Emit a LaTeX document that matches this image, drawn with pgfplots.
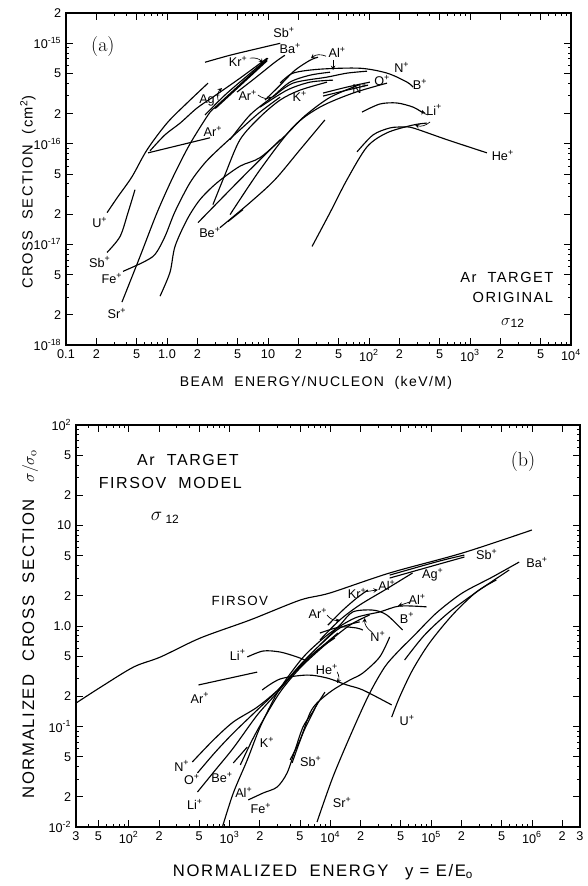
\documentclass[border=0pt]{standalone}
\usepackage{fontspec}
\usepackage{pgfplots}
\pgfplotsset{compat=1.18}
\newfontfamily\lab{Liberation Sans}
\newfontfamily\labw[LetterSpace=10]{Liberation Sans}
\newcommand{\ion}[1]{#1\textsuperscript{+}}

\pgfplotsset{
  every axis/.append style={
    scale only axis,
    axis line style={line width=1pt},
    tick align=inside, major tick length=5pt, minor tick length=2.5pt,
    tick label style={font=\lab\fontsize{9.5}{10}\selectfont},
  },
  every tick/.style={black, line width=0.6pt},
  ioncurve/.style={black, line width=0.85pt, smooth, no marks},
}
\tikzset{
  lbl/.style={font=\lab\fontsize{9.5}{10}\selectfont, inner sep=0pt},
  arr/.style={->, >=stealth, line width=0.5pt},
}

\begin{document}
\begin{tikzpicture}
\useasboundingbox (0pt,0pt) rectangle (440.25pt,664.5pt);

% ---------------- panel (a) ----------------
\begin{loglogaxis}[at={(49.5pt,405.75pt)}, anchor=south west, width=378.75pt, height=249pt,
  xmin=0.1, xmax=1e4, ymin=1e-18, ymax=2e-15,
  xtick={0.1,0.2,0.5,1,2,5,10,20,50,100,200,500,1000,2000,5000,10000},
  xticklabels={0.1,2,5,1.0,2,5,10,2,5,10\textsuperscript{2},2,5,10\textsuperscript{3},2,5,10\textsuperscript{4}},
  minor xtick={0.3,0.4,0.6,0.7,0.8,0.9,3,4,6,7,8,9,30,40,60,70,80,90,300,400,600,700,800,900,3000,4000,6000,7000,8000,9000},
  ytick={1e-18,2e-18,5e-18,1e-17,2e-17,5e-17,1e-16,2e-16,5e-16,1e-15,2e-15},
  yticklabels={10\textsuperscript{-18},2,5,10\textsuperscript{-17},2,5,10\textsuperscript{-16},2,5,10\textsuperscript{-15},2},
  minor ytick={3e-18,4e-18,6e-18,7e-18,8e-18,9e-18,3e-17,4e-17,6e-17,7e-17,8e-17,9e-17,3e-16,4e-16,6e-16,7e-16,8e-16,9e-16},
]
% Sb+ (two ranges)
\addplot[ioncurve] coordinates {(2.38,6.48e-16) (4.21,7.61e-16) (7.43,8.73e-16) (13.2,1.0e-15)};
\addplot[ioncurve] coordinates {(0.255,8.33e-18) (0.343,1.20e-17) (0.411,2.07e-17) (0.482,3.50e-17)};
% U+
\addplot[ioncurve] coordinates {(0.255,2.07e-17) (0.327,2.99e-17) (0.450,4.71e-17) (0.634,8.72e-17) (1.0,1.61e-16) (1.58,2.55e-16) (2.55,4.02e-16)};
% Ar+ (low energy)
\addplot[ioncurve] coordinates {(0.649,8.14e-17) (2.67,1.15e-16)};
\addplot[ioncurve] coordinates {(0.679,8.53e-17) (0.955,1.23e-16) (1.35,1.61e-16) (1.98,2.27e-16) (2.85,2.92e-16) (5.28,4.50e-16) (9.77,7.10e-16)};
% Ag+
\addplot[ioncurve, line width=1.6pt] coordinates {(2.99,2.27e-16) (5.28,3.84e-16) (9.77,6.79e-16)};
% Sr+
\addplot[ioncurve] coordinates {(0.358,2.67e-18) (0.541,7.60e-18) (0.797,2.07e-17) (1.15,4.71e-17) (1.69,1.0e-16) (2.67,2.07e-16) (3.13,2.32e-16)};
% Fe+
\addplot[ioncurve] coordinates {(0.367,5.40e-18) (0.578,6.64e-18) (0.761,7.96e-18) (0.955,1.20e-17) (1.20,2.12e-17) (1.69,4.11e-17) (2.38,6.49e-17) (3.35,9.12e-17) (5.28,1.38e-16) (8.34,2.07e-16) (13.2,2.92e-16)};
% low starting curve
\addplot[ioncurve] coordinates {(0.853,3.06e-18) (1.07,5.28e-18) (1.20,9.55e-18) (1.58,1.77e-17) (2.12,2.79e-17) (3.13,4.11e-17) (5.28,6.0e-17) (8.34,7.3e-17) (14.7,1.2e-16) (23.2,1.9e-16) (41.1,2.9e-16) (81.5,3.9e-16)};
% Be+
\addplot[ioncurve] coordinates {(2.03,1.65e-17) (5.28,4.40e-17) (13.2,1.10e-16)};
\addplot[ioncurve] coordinates {(3.35,1.47e-17) (6.64,2.61e-17) (11.7,4.40e-17) (20.7,8.72e-17) (36.6,1.73e-16)};
\addplot[ioncurve] coordinates {(4.02,1.69e-17) (5.65,2.22e-17)};
% K+
\addplot[ioncurve] coordinates {(2.85,2.49e-17) (3.75,4.93e-17) (5.28,1.10e-16) (8.34,1.85e-16) (13.2,2.73e-16) (20.7,3.42e-16) (38.4,4.11e-16)};
% N+ (long)
\addplot[ioncurve] coordinates {(4.21,1.98e-17) (8.34,5.53e-17) (17.7,1.47e-16) (32.7,2.32e-16) (69.5,3.20e-16) (151,4.02e-16)};
% Ba+
\addplot[ioncurve] coordinates {(4.93,3.27e-16) (7.43,4.50e-16) (11.7,6.48e-16) (14.7,7.61e-16)};
% Kr+
\addplot[ioncurve] coordinates {(2.38,1.94e-16) (3.75,3.06e-16) (6.34,4.82e-16) (10.0,7.10e-16)};
% Ar+ (mid)
\addplot[ioncurve] coordinates {(4.21,1.10e-16) (6.64,1.94e-16) (11.0,2.92e-16) (16.5,4.11e-16) (26.1,4.82e-16) (41.1,5.16e-16)};
% Al+
\addplot[ioncurve] coordinates {(9.34,2.73e-16) (13.2,3.84e-16) (18.5,5.40e-16) (26.1,6.79e-16) (31.3,7.27e-16)};
% B+
\addplot[ioncurve] coordinates {(13.2,4.02e-16) (17.7,5.05e-16) (32.7,5.53e-16) (81.5,5.65e-16) (151,5.05e-16) (238,4.11e-16) (273,3.67e-16)};
% N+ (upper)
\addplot[ioncurve] coordinates {(11.2,2.92e-16) (17.7,4.02e-16) (38.4,4.61e-16) (60.5,5.05e-16) (95.5,5.28e-16)};
\addplot[ioncurve] coordinates {(8.34,2.32e-16) (15.4,3.42e-16) (26.1,4.11e-16) (44.0,4.30e-16)};
% O+ / N+ pair
\addplot[ioncurve] coordinates {(35.1,3.20e-16) (60.5,3.67e-16) (102,4.11e-16)};
\addplot[ioncurve] coordinates {(35.1,2.99e-16) (60.5,3.42e-16) (98,3.84e-16)};
% Li+
\addplot[ioncurve] coordinates {(85.3,2.07e-16) (128,2.49e-16) (189,2.55e-16) (273,2.32e-16) (343,2.03e-16)};
\addplot[ioncurve] coordinates {(27.3,9.55e-18) (41.1,2.07e-17) (60.5,4.40e-17) (95.5,9.33e-17) (151,1.29e-16) (273,1.54e-16) (375,1.61e-16)};
% He+
\addplot[ioncurve] coordinates {(76.1,8.33e-17) (110,1.23e-16) (161,1.44e-16) (217,1.47e-16) (273,1.44e-16) (592,1.10e-16) (1472,8.14e-17)};

\node[inner sep=0pt, font=\fontsize{15}{16}\selectfont] at (rel axis cs:0.073,0.898) {(a)};
\node[lbl] at (rel axis cs:0.432,0.940) {\ion{Sb}};
\node[lbl] at (rel axis cs:0.444,0.892) {\ion{Ba}};
\node[lbl] at (rel axis cs:0.341,0.855) {\ion{Kr}};
\node[lbl] at (rel axis cs:0.285,0.738) {\ion{Ag}};
\node[lbl] at (rel axis cs:0.360,0.753) {\ion{Ar}};
\node[lbl] at (rel axis cs:0.291,0.642) {\ion{Ar}};
\node[lbl] at (rel axis cs:0.463,0.750) {\ion{K}};
\node[lbl] at (rel axis cs:0.537,0.880) {\ion{Al}};
\node[lbl] at (rel axis cs:0.665,0.837) {\ion{N}};
\node[lbl] at (rel axis cs:0.701,0.786) {\ion{B}};
\node[lbl] at (rel axis cs:0.626,0.798) {\ion{O}};
\node[lbl] at (rel axis cs:0.582,0.774) {\ion{N}};
\node[lbl] at (rel axis cs:0.729,0.708) {\ion{Li}};
\node[lbl] at (rel axis cs:0.865,0.572) {\ion{He}};
\node[lbl] at (rel axis cs:0.285,0.340) {\ion{Be}};
\node[lbl] at (rel axis cs:0.067,0.370) {\ion{U}};
\node[lbl] at (rel axis cs:0.067,0.250) {\ion{Sb}};
\node[lbl] at (rel axis cs:0.091,0.199) {\ion{Fe}};
\node[lbl] at (rel axis cs:0.101,0.096) {\ion{Sr}};
\node[lbl, font=\labw\fontsize{11}{12}\selectfont] at (rel axis cs:0.873,0.205) {Ar\ \ TARGET};
\node[lbl, font=\labw\fontsize{11}{12}\selectfont] at (rel axis cs:0.885,0.142) {ORIGINAL};
\node[lbl, font=\lab\fontsize{13}{14}\selectfont] at (rel axis cs:0.885,0.066) {$\sigma$\textsubscript{\fontsize{9}{10}\selectfont 12}};
\draw[arr] (rel axis cs:0.364,0.864) to[bend left] (rel axis cs:0.390,0.849);
\draw[arr] (rel axis cs:0.515,0.870) to[bend right] (rel axis cs:0.485,0.864);
\draw[arr] (rel axis cs:0.529,0.858) -- (rel axis cs:0.529,0.828);
\draw[arr] (rel axis cs:0.380,0.753) to[bend right] (rel axis cs:0.408,0.747);
\draw[arr] (rel axis cs:0.301,0.738) to[bend left] (rel axis cs:0.309,0.774);
\draw[arr] (rel axis cs:0.717,0.693) to[bend left] (rel axis cs:0.705,0.708);
\draw[arr] (rel axis cs:0.721,0.672) to[bend left] (rel axis cs:0.691,0.663);
\end{loglogaxis}

% ---------------- panel (b) ----------------
\begin{loglogaxis}[at={(57pt,44.25pt)}, anchor=south west, width=378pt, height=301.5pt,
  xmin=30, xmax=3e6, ymin=1e-2, ymax=1e2,
  xtick={30,50,100,200,500,1000,2000,5000,1e4,2e4,5e4,1e5,2e5,5e5,1e6,2e6,3e6},
  xticklabels={3,5,10\textsuperscript{2},2,5,10\textsuperscript{3},2,5,10\textsuperscript{4},2,5,10\textsuperscript{5},2,5,10\textsuperscript{6},2,3},
  minor xtick={40,60,70,80,90,300,400,600,700,800,900,3000,4000,6000,7000,8000,9000,3e4,4e4,6e4,7e4,8e4,9e4,3e5,4e5,6e5,7e5,8e5,9e5},
  ytick={0.01,0.02,0.05,0.1,0.2,0.5,1,2,5,10,20,50,100},
  yticklabels={10\textsuperscript{-2},2,5,10\textsuperscript{-1},2,5,1.0,2,5,10,2,5,10\textsuperscript{2}},
  minor ytick={0.03,0.04,0.06,0.07,0.08,0.09,0.3,0.4,0.6,0.7,0.8,0.9,3,4,6,7,8,9,30,40,60,70,80,90},
]
% Firsov model
\addplot[ioncurve] coordinates {(30,0.171) (52.9,0.247) (112,0.391) (207,0.492) (514,0.760) (1607,1.15) (5012,1.81) (9910,2.13) (38800,3.37) (2.04e5,5.32) (1.0e6,9.02)};
% Sb+ (high)
\addplot[ioncurve] coordinates {(38820,3.21) (1.21e5,4.43) (2.14e5,5.08)};
\addplot[ioncurve] coordinates {(38820,3.00) (1.21e5,4.14) (2.14e5,4.86)};
% Ag+
\addplot[ioncurve] coordinates {(7889,0.726) (12450,1.15) (19600,1.62) (34670,2.28) (65460,3.37)};
% Kr+
\addplot[ioncurve] coordinates {(9462,1.02) (13330,1.44) (18320,1.90) (23550,2.28)};
% Al+
\addplot[ioncurve] coordinates {(850,0.0100) (1091,0.0218) (1501,0.0465) (2014,0.0989) (2968,0.215) (4270,0.365) (5875,0.538) (9910,0.851) (17500,1.20) (30900,1.38) (48750,1.58) (90160,1.55)};
% B+
\addplot[ioncurve] coordinates {(7889,0.647) (12450,1.02) (16710,1.38) (26370,1.44) (36220,1.29) (52120,0.912)};
% N+ (upper)
\addplot[ioncurve] coordinates {(7889,0.851) (12450,0.977) (18320,0.955) (20990,0.912)};
% Li+ (upper)
\addplot[ioncurve] coordinates {(1501,0.492) (2158,0.564) (3177,0.551) (4677,0.492) (5875,0.449)};
% Ar+ (low)
\addplot[ioncurve] coordinates {(492,0.259) (1884,0.348)};
% N+, O+, Li+
\addplot[ioncurve] coordinates {(428,0.0444) (692,0.0734) (1091,0.111) (1884,0.156) (3177,0.242) (5012,0.409) (7889,0.647) (12450,0.955) (19600,1.10)};
\addplot[ioncurve] coordinates {(481,0.0345) (724,0.0557) (1091,0.0861) (1884,0.146) (3037,0.231) (4786,0.382) (7534,0.577) (11890,0.851)};
\addplot[ioncurve] coordinates {(481,0.0223) (724,0.0369) (1091,0.0611) (1884,0.130) (2838,0.206) (4467,0.348) (7047,0.551) (11100,0.760)};
% Be+
\addplot[ioncurve] coordinates {(1091,0.0434) (1501,0.0625)};
% K+
\addplot[ioncurve] coordinates {(1279,0.0414) (1680,0.0734) (2158,0.116) (3177,0.220) (5012,0.382) (8851,0.647) (15630,1.02) (24600,1.29)};
% Fe+
\addplot[ioncurve] coordinates {(1535,0.0186) (2158,0.0218) (2968,0.0250) (3726,0.0345) (4467,0.0583) (5358,0.0989) (6577,0.136) (7534,0.171) (8851,0.220)};
% Sb+ (low)
\addplot[ioncurve] coordinates {(3990,0.0465) (5012,0.0734) (6281,0.136) (7534,0.175) (10620,0.231) (15630,0.290) (20990,0.340) (30900,0.492) (38820,0.778)};
\addplot[ioncurve] coordinates {(4178,0.0434) (5358,0.0861) (6730,0.138) (7534,0.175)};
% He+
\addplot[ioncurve] coordinates {(2110,0.231) (3177,0.297) (5875,0.325) (9247,0.304) (14590,0.259) (20990,0.231) (40640,0.164)};
% Sr+ / Ba+
\addplot[ioncurve] coordinates {(7379,0.0112) (10620,0.0315) (16710,0.0923) (24600,0.215) (34670,0.391) (46560,0.551) (68550,0.813) (1.13e5,1.35) (2.04e5,2.13) (4.05e5,3.07) (7.48e5,4.33)};
% U+
\addplot[ioncurve] coordinates {(40640,0.124) (48750,0.197) (65460,0.365) (96390,0.678) (1.63e5,1.29) (2.81e5,2.18) (4.43e5,2.87)};
\addplot[ioncurve] coordinates {(54580,0.459) (86100,0.813) (1.52e5,1.38) (3.01e5,2.28) (5.96e5,3.61)};

\node[inner sep=0pt, font=\fontsize{15}{16}\selectfont] at (rel axis cs:0.887,0.908) {(b)};
\node[lbl, font=\labw\fontsize{12}{13}\selectfont] at (rel axis cs:0.222,0.913) {Ar\ \ TARGET};
\node[lbl, font=\labw\fontsize{12}{13}\selectfont] at (rel axis cs:0.187,0.856) {FIRSOV\ \ MODEL};
\node[lbl, font=\lab\fontsize{14}{15}\selectfont] at (rel axis cs:0.177,0.769) {$\sigma$\textsubscript{\fontsize{9}{10}\selectfont\ 12}};
\node[lbl, font=\labw\fontsize{10}{11}\selectfont] at (rel axis cs:0.325,0.562) {FIRSOV};
\node[lbl] at (rel axis cs:0.321,0.428) {\ion{Li}};
\node[lbl] at (rel axis cs:0.246,0.321) {\ion{Ar}};
\node[lbl] at (rel axis cs:0.210,0.152) {\ion{N}};
\node[lbl] at (rel axis cs:0.230,0.119) {\ion{O}};
\node[lbl] at (rel axis cs:0.236,0.057) {\ion{Li}};
\node[lbl] at (rel axis cs:0.290,0.124) {\ion{Be}};
\node[lbl] at (rel axis cs:0.333,0.087) {\ion{Al}};
\node[lbl] at (rel axis cs:0.367,0.047) {\ion{Fe}};
\node[lbl] at (rel axis cs:0.379,0.211) {\ion{K}};
\node[lbl] at (rel axis cs:0.466,0.162) {\ion{Sb}};
\node[lbl] at (rel axis cs:0.528,0.060) {\ion{Sr}};
\node[lbl] at (rel axis cs:0.498,0.391) {\ion{He}};
\node[lbl] at (rel axis cs:0.657,0.266) {\ion{U}};
\node[lbl] at (rel axis cs:0.915,0.659) {\ion{Ba}};
\node[lbl] at (rel axis cs:0.815,0.677) {\ion{Sb}};
\node[lbl] at (rel axis cs:0.708,0.627) {\ion{Ag}};
\node[lbl] at (rel axis cs:0.617,0.600) {\ion{Al}};
\node[lbl] at (rel axis cs:0.558,0.582) {\ion{Kr}};
\node[lbl] at (rel axis cs:0.677,0.565) {\ion{Al}};
\node[lbl] at (rel axis cs:0.657,0.520) {\ion{B}};
\node[lbl] at (rel axis cs:0.599,0.473) {\ion{N}};
\node[lbl] at (rel axis cs:0.480,0.532) {\ion{Ar}};
\draw[arr] (rel axis cs:0.573,0.585) -- (rel axis cs:0.599,0.590);
\draw[arr] (rel axis cs:0.663,0.560) -- (rel axis cs:0.639,0.550);
\draw[arr] (rel axis cs:0.498,0.527) to[bend right] (rel axis cs:0.524,0.515);
\draw[arr] (rel axis cs:0.518,0.386) to[bend left] (rel axis cs:0.518,0.358);
\draw[arr] (rel axis cs:0.587,0.485) to[bend left] (rel axis cs:0.573,0.520);
\end{loglogaxis}

% axis titles
\node[rotate=90, font=\labw\fontsize{11}{12}\selectfont] at (21pt,520.5pt) {CROSS\ \ SECTION\ \ (cm\textsuperscript{2})};
\node[font=\labw\fontsize{10.5}{12}\selectfont] at (237pt,377.25pt) {BEAM\ \ ENERGY/NUCLEON\ \ (keV/M)};
\node[rotate=90, font=\labw\fontsize{12.5}{13}\selectfont] at (22.5pt,196.5pt) {NORMALIZED\ \ CROSS\ \ SECTION\quad $\sigma/\sigma_{\mathrm{o}}$};
\node[font=\labw\fontsize{12.5}{13}\selectfont] at (242.25pt,10.5pt) {NORMALIZED\ \ ENERGY\quad y = E/E\textsubscript{o}};
\end{tikzpicture}
\end{document}
